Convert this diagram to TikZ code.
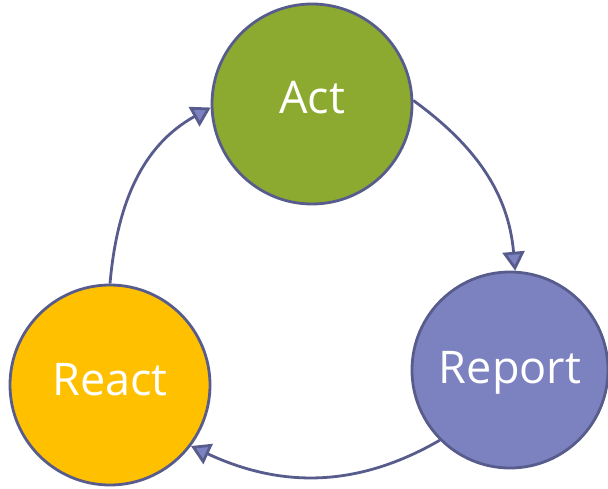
\documentclass[tikz,border=0pt]{standalone}
\usepackage{fontspec}
\setmainfont{Open Sans}
\usetikzlibrary{arrows.meta}
\definecolor{actgreen}{RGB}{141,170,48}
\definecolor{reportblue}{RGB}{124,130,192}
\definecolor{reactgold}{RGB}{255,192,0}
\definecolor{rim}{RGB}{88,92,140}
\begin{document}
\begin{tikzpicture}[x=1pt,y=1pt,
    stage/.style={circle,draw=rim,line width=2.8pt,minimum size=200pt,inner sep=0pt,
      text=white,font=\fontsize{45}{50}\selectfont,text height=32pt,text depth=12pt},
    flow/.style={draw=rim,line width=2.8pt,
      -{Triangle[length=19pt,width=22pt,fill=reportblue]}}]
  \useasboundingbox (0,0) rectangle (608,-489);
  % the three stages
  \node[stage,fill=actgreen] (act) at (312,-104) {Act};
  \node[stage,fill=reportblue,minimum size=196pt,text depth=6pt] (report) at (510,-370) {Report};
  \node[stage,fill=reactgold] (react) at (110,-385) {React};
  % the cycle
  \draw[flow] (act.2) to[out=-36,in=95] (report.87);
  \draw[flow] (report.225) to[out=-150,in=-25] (react.-37);
  \draw[flow] (react.90) to[out=85,in=-151] (act.182);
\end{tikzpicture}
\end{document}
